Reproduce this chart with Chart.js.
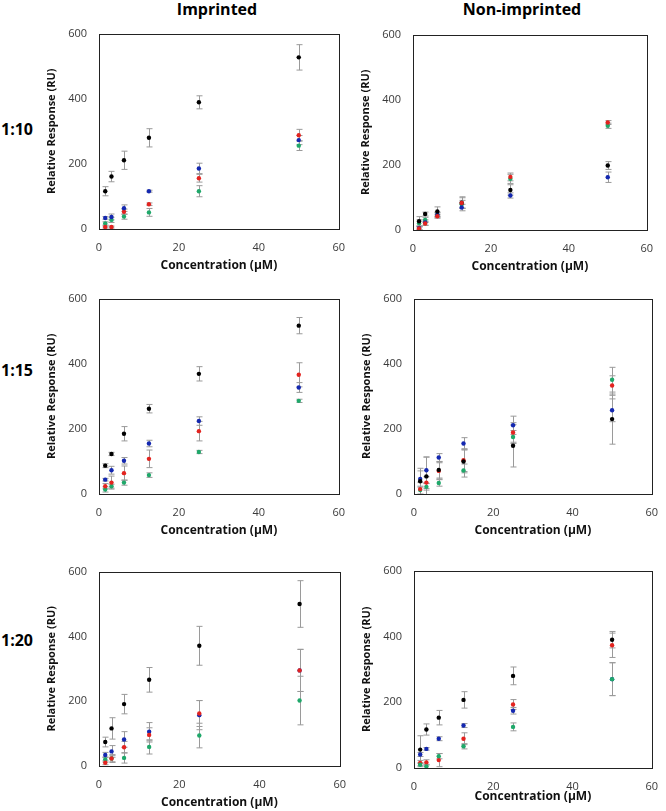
<!DOCTYPE html>
<html><head><meta charset="utf-8">
<script src="https://cdn.jsdelivr.net/npm/chart.js@4.4.1/dist/chart.umd.min.js"></script>
<style>
html,body{margin:0;padding:0;background:#fff;width:666px;height:811px;overflow:hidden;position:relative;font-family:"Open Sans",sans-serif;}
canvas{position:absolute;}
.lbl{position:absolute;font-weight:bold;color:#000;white-space:nowrap;transform:translate(-50%,-50%);line-height:1;}
</style></head><body>
<div class="lbl" style="left:217px;top:9px;font-size:16px">Imprinted</div>
<div class="lbl" style="left:522px;top:9px;font-size:16px">Non-imprinted</div>
<div class="lbl" style="left:17px;top:129px;font-size:16px">1:10</div>
<div class="lbl" style="left:17px;top:370px;font-size:16px">1:15</div>
<div class="lbl" style="left:17px;top:640px;font-size:16px">1:20</div>
<canvas id="c1"></canvas><canvas id="c2"></canvas>
<canvas id="c3"></canvas><canvas id="c4"></canvas>
<canvas id="c5"></canvas><canvas id="c6"></canvas>
<script>
// ---- data ----
const concentrations = [1.5625, 3.125, 6.25, 12.5, 25, 50];
const xTicks = [0, 20, 40, 60];
const yTicks = [0, 200, 400, 600];

// 1:10 imprinted
const imp10Black = [116, 161, 211, 280, 389, 527];
const imp10BlackErr = [14, 16, 28, 28, 20, 39];
const imp10Blue = [34, 37, 64, 116, 186, 273];
const imp10BlueErr = [4, 9, 10, 3, 16, 14];
const imp10Red = [6, 6, 53, 76, 156, 288];
const imp10RedErr = [3, 3, 8, 4, 12, 18];
const imp10Green = [17, 28, 38, 51, 116, 256];
const imp10GreenErr = [5, 8, 8, 12, 17, 15];
// 1:10 non-imprinted
const non10Black = [27, 49, 57, 84, 123, 198];
const non10BlackErr = [14, 6, 14, 18, 16, 12];
const non10Blue = [6, 23, 47, 69, 106, 162];
const non10BlueErr = [5, 8, 6, 10, 8, 16];
const non10Red = [5, 20, 42, 83, 163, 330];
const non10RedErr = [4, 6, 6, 16, 12, 6];
const non10Green = [21, 31, 47, 79, 157, 320];
const non10GreenErr = [10, 8, 8, 12, 14, 8];
// 1:15 imprinted
const imp15Black = [87, 123, 185, 262, 369, 517];
const imp15BlackErr = [6, 5, 22, 13, 22, 25];
const imp15Blue = [44, 73, 102, 155, 224, 327];
const imp15BlueErr = [4, 12, 10, 10, 13, 15];
const imp15Red = [24, 35, 64, 108, 193, 366];
const imp15RedErr = [8, 20, 22, 27, 30, 37];
const imp15Green = [14, 24, 35, 58, 129, 286];
const imp15GreenErr = [8, 6, 8, 7, 5, 5];
// 1:15 non-imprinted
const non15Black = [39, 54, 74, 100, 148, 230];
const non15BlackErr = [40, 60, 25, 35, 65, 77];
const non15Blue = [46, 73, 112, 155, 211, 257];
const non15BlueErr = [25, 40, 12, 18, 28, 35];
const non15Red = [15, 35, 71, 104, 189, 333];
const non15RedErr = [20, 18, 25, 35, 30, 30];
const non15Green = [12, 22, 34, 72, 175, 351];
const non15GreenErr = [12, 10, 10, 20, 20, 38];
// 1:20 imprinted
const imp20Black = [74, 116, 191, 266, 371, 500];
const imp20BlackErr = [15, 33, 30, 38, 60, 72];
const imp20Blue = [34, 45, 82, 106, 157, 295];
const imp20BlueErr = [8, 18, 24, 28, 45, 65];
const imp20Red = [10, 23, 58, 96, 162, 295];
const imp20RedErr = [6, 10, 18, 22, 40, 65];
const imp20Green = [20, 23, 25, 59, 94, 202];
const imp20GreenErr = [8, 12, 16, 22, 38, 75];
// 1:20 non-imprinted
const non20Black = [56, 117, 153, 207, 280, 390];
const non20BlackErr = [42, 17, 22, 25, 27, 25];
const non20Blue = [41, 58, 89, 129, 174, 270];
const non20BlueErr = [6, 4, 6, 6, 10, 50];
const non20Red = [15, 17, 24, 89, 193, 373];
const non20RedErr = [8, 8, 20, 18, 15, 37];
const non20Green = [10, 5, 36, 66, 125, 270];
const non20GreenErr = [6, 6, 8, 8, 12, 50];

// ---- styles ----
const COLORS = {black: '#000000', blue: '#1428b0', red: '#e3231f', green: '#1fa86a'};
const ERR_COLOR = '#9a9a9a';
const Y_AXIS_W = 59, X_AXIS_H = 44, PAD_TOP = 10, PAD_RIGHT = 12;

const errorBarPlugin = {
  id: 'errorBars',
  beforeDatasetsDraw(chart) {
    const ctx = chart.ctx, xs = chart.scales.x, ys = chart.scales.y;
    ctx.save();
    ctx.strokeStyle = ERR_COLOR;
    ctx.lineWidth = 1;
    chart.data.datasets.forEach(ds => {
      ds.data.forEach((p, i) => {
        const e = ds.errors[i];
        const px = Math.round(xs.getPixelForValue(p.x)) + 0.5;
        const top = ys.getPixelForValue(p.y + e);
        const bot = ys.getPixelForValue(Math.max(p.y - e, ys.min));
        ctx.beginPath();
        ctx.moveTo(px, top); ctx.lineTo(px, bot);
        ctx.moveTo(px - 3, top); ctx.lineTo(px + 3, top);
        if (p.y - e >= ys.min) { ctx.moveTo(px - 3, bot); ctx.lineTo(px + 3, bot); }
        ctx.stroke();
      });
    });
    ctx.restore();
  }
};
const boxPlugin = {
  id: 'box',
  afterDraw(chart) {
    const a = chart.chartArea, ctx = chart.ctx;
    ctx.save();
    ctx.strokeStyle = '#222';
    ctx.lineWidth = 1;
    ctx.strokeRect(Math.round(a.left) + 0.5, Math.round(a.top) + 0.5,
                   Math.round(a.right - a.left), Math.round(a.bottom - a.top));
    ctx.restore();
  }
};

// series listed top-most first (Chart.js paints dataset 0 last)
function makePanel(id, geom, series, titlePadBottom) {
  const cv = document.getElementById(id);
  const w = Math.round((geom.r - geom.l) + Y_AXIS_W + PAD_RIGHT);
  const h = Math.round((geom.b - geom.t) + PAD_TOP + X_AXIS_H);
  cv.width = w; cv.height = h;
  cv.style.width = w + 'px'; cv.style.height = h + 'px';
  cv.style.left = (geom.l - Y_AXIS_W) + 'px';
  cv.style.top = (geom.t - PAD_TOP) + 'px';
  const tickFont = {family: '"Open Sans", sans-serif', size: 11};
  new Chart(cv, {
    type: 'scatter',
    data: {
      datasets: series.map(s => ({
        data: concentrations.map((c, i) => ({x: c, y: s.values[i]})),
        errors: s.errors,
        backgroundColor: s.color,
        borderColor: s.color,
        pointRadius: 2.2,
        pointBorderWidth: 0,
        showLine: false
      }))
    },
    options: {
      responsive: false,
      animation: false,
      devicePixelRatio: 1,
      layout: {padding: {top: PAD_TOP, right: PAD_RIGHT, left: 0, bottom: 0}},
      plugins: {legend: {display: false}, tooltip: {enabled: false}},
      scales: {
        x: {
          type: 'linear', min: xTicks[0], max: xTicks[xTicks.length - 1],
          afterBuildTicks: sc => { sc.ticks = xTicks.map(v => ({value: v})); },
          afterFit: sc => { sc.height = X_AXIS_H; },
          grid: {display: false, drawTicks: false},
          border: {display: false},
          ticks: {padding: 12, color: '#3a3a3a', font: tickFont, maxRotation: 0},
          title: {display: true, text: 'Concentration (µM)', color: '#111',
                  font: {family: '"Open Sans", sans-serif', size: 12, weight: 'bold'},
                  padding: {top: 0, bottom: titlePadBottom}}
        },
        y: {
          type: 'linear', min: yTicks[0], max: yTicks[yTicks.length - 1],
          afterBuildTicks: sc => { sc.ticks = yTicks.map(v => ({value: v})); },
          afterFit: sc => { sc.width = Y_AXIS_W; },
          grid: {display: false, drawTicks: false},
          border: {display: false},
          ticks: {padding: 12, color: '#3a3a3a', font: tickFont},
          title: {display: true, text: 'Relative Response (RU)', color: '#111',
                  font: {family: '"Open Sans", sans-serif', size: 11, weight: 'bold'},
                  padding: {top: 5, bottom: 0}}
        }
      }
    },
    plugins: [errorBarPlugin, boxPlugin]
  });
}

function ser(v, e, c) { return {values: v, errors: e, color: c}; }

makePanel('c1', {l: 99.3, t: 25, r: 345, b: 228.7}, [
  ser(imp10Black, imp10BlackErr, COLORS.black), ser(imp10Blue, imp10BlueErr, COLORS.blue),
  ser(imp10Red, imp10RedErr, COLORS.red), ser(imp10Green, imp10GreenErr, COLORS.green)], 0);
makePanel('c2', {l: 413, t: 25.7, r: 653, b: 229.3}, [
  ser(non10Red, non10RedErr, COLORS.red), ser(non10Black, non10BlackErr, COLORS.black),
  ser(non10Blue, non10BlueErr, COLORS.blue), ser(non10Green, non10GreenErr, COLORS.green)], 0);
makePanel('c3', {l: 99.3, t: 290, r: 345.3, b: 494}, [
  ser(imp15Black, imp15BlackErr, COLORS.black), ser(imp15Blue, imp15BlueErr, COLORS.blue),
  ser(imp15Red, imp15RedErr, COLORS.red), ser(imp15Green, imp15GreenErr, COLORS.green)], 0);
makePanel('c4', {l: 414, t: 290, r: 658, b: 494}, [
  ser(non15Black, non15BlackErr, COLORS.black), ser(non15Blue, non15BlueErr, COLORS.blue),
  ser(non15Red, non15RedErr, COLORS.red), ser(non15Green, non15GreenErr, COLORS.green)], 0);
makePanel('c5', {l: 99.3, t: 563.3, r: 346, b: 766.7}, [
  ser(imp20Red, imp20RedErr, COLORS.red), ser(imp20Black, imp20BlackErr, COLORS.black),
  ser(imp20Blue, imp20BlueErr, COLORS.blue), ser(imp20Green, imp20GreenErr, COLORS.green)], 0);
makePanel('c6', {l: 414, t: 562.3, r: 658, b: 768.3}, [
  ser(non20Green, non20GreenErr, COLORS.green), ser(non20Black, non20BlackErr, COLORS.black),
  ser(non20Red, non20RedErr, COLORS.red), ser(non20Blue, non20BlueErr, COLORS.blue)], 8);
</script>
</body></html>
